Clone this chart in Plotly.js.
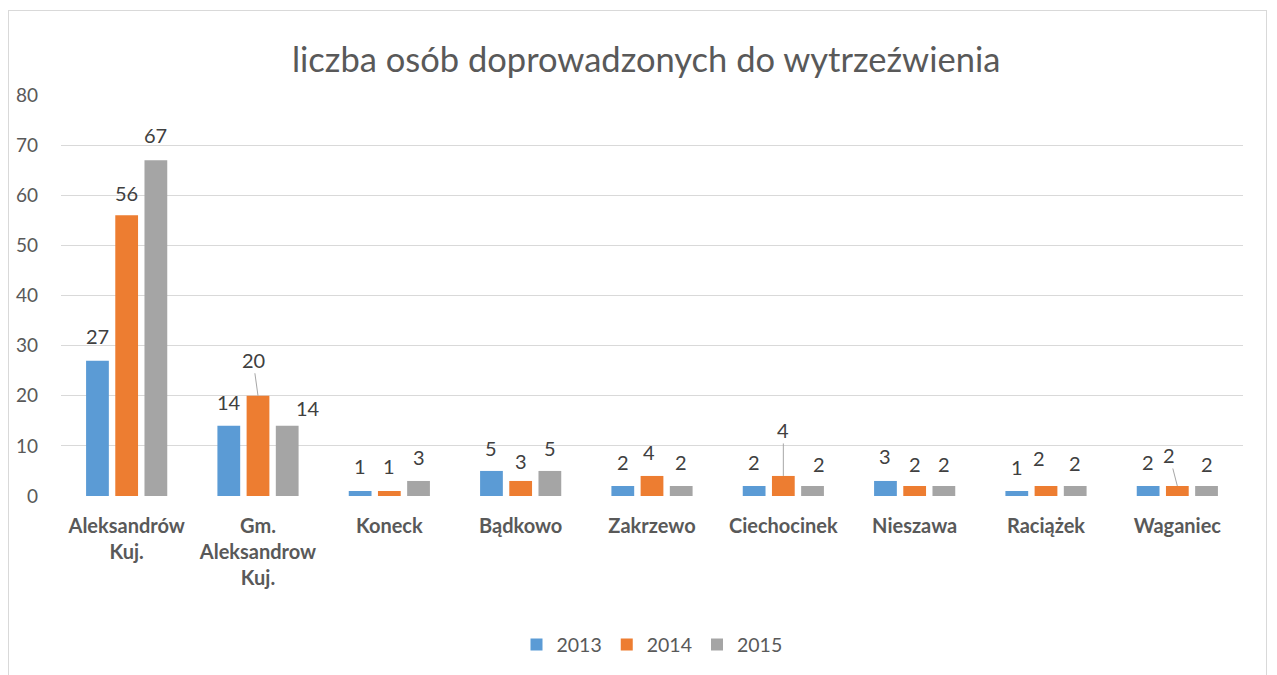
<!DOCTYPE html>
<html>
<head>
<meta charset="utf-8">
<script src="https://cdn.plot.ly/plotly-3.0.1.min.js"></script>
<style>
  html, body { margin: 0; padding: 0; background: #ffffff; }
  #frame { position: absolute; left: 8px; top: 10px; width: 1259px; height: 700px; border: 1px solid #d9d9d9; box-sizing: border-box; }
  #chart { position: absolute; left: 0; top: 0; width: 1277px; height: 675px; }
</style>
</head>
<body>
<div id="frame"></div>
<div id="chart"></div>
<script>
// ---- data ----
const categories = ['Aleksandrów Kuj.', 'Gm. Aleksandrow Kuj.', 'Koneck', 'Bądkowo', 'Zakrzewo', 'Ciechocinek', 'Nieszawa', 'Raciążek', 'Waganiec'];
const tickLabels = ['Aleksandrów<br>Kuj.', 'Gm.<br>Aleksandrow<br>Kuj.', 'Koneck', 'Bądkowo', 'Zakrzewo', 'Ciechocinek', 'Nieszawa', 'Raciążek', 'Waganiec'];
const seriesNames = ['2013', '2014', '2015'];
const v2013 = [27, 14, 1, 5, 2, 2, 3, 1, 2];
const v2014 = [56, 20, 1, 3, 4, 4, 2, 2, 2];
const v2015 = [67, 14, 3, 5, 2, 2, 2, 2, 2];

// ---- styles / label placement (pixels) ----
const colors = ['#5B9BD5', '#ED7D31', '#A5A5A5'];
const dx2013 = [0, 0, 0, 0, 0, 0, 0, 0, 0];
const dy2013 = [25, 24, 25, 23, 24, 24, 25, 24, 24];
const dx2014 = [0, -5, 0, 0, -3, 0, 0, -7, -8];
const dy2014 = [22, 36, 25, 20, 24, 46, 22, 28, 31];
const leader2014 = [false, true, false, false, false, true, false, false, true];
const dx2015 = [0, 21, 0, 0, 0, 6, 0, 0, 0];
const dy2015 = [25, 18, 24, 23, 24, 22, 22, 23, 22];

const W = 1277, H = 675;
const margin = {l: 61, r: 34, t: 95, b: 178, pad: 0};
const bargap = 0.333, bargroupgap = 0.22;
const step = (W - margin.l - margin.r) / categories.length;
const slot = step * (1 - bargap) / 3;
const slotOffsets = [-slot, 0, slot];

const values = [v2013, v2014, v2015];
const dxs = [dx2013, dx2014, dx2015];
const dys = [dy2013, dy2014, dy2015];
const leaders = [categories.map(() => false), leader2014, categories.map(() => false)];

const traces = values.map((vals, i) => ({
  type: 'bar',
  name: seriesNames[i],
  x: categories,
  y: vals,
  marker: {color: colors[i]},
  hoverinfo: 'skip'
}));

const annotations = [];
values.forEach((vals, i) => {
  vals.forEach((v, j) => {
    const a = {
      x: categories[j], y: v, xref: 'x', yref: 'y',
      text: String(v),
      font: {family: 'Lato, sans-serif', size: 20, color: '#404040'}
    };
    if (leaders[i][j]) {
      Object.assign(a, {
        showarrow: true, arrowhead: 0, arrowwidth: 1, arrowcolor: '#a6a6a6',
        standoff: 0, xshift: slotOffsets[i],
        ax: dxs[i][j], ay: -dys[i][j]
      });
    } else {
      Object.assign(a, {
        showarrow: false, xanchor: 'center', yanchor: 'middle',
        xshift: slotOffsets[i] + dxs[i][j], yshift: dys[i][j]
      });
    }
    annotations.push(a);
  });
});

const layout = {
  width: W, height: H,
  margin: margin,
  paper_bgcolor: 'rgba(0,0,0,0)',
  plot_bgcolor: '#ffffff',
  barmode: 'group',
  bargap: bargap,
  bargroupgap: bargroupgap,
  showlegend: true,
  font: {family: 'Lato, sans-serif', color: '#595959'},
  title: {
    text: 'liczba osób doprowadzonych do wytrzeźwienia',
    font: {family: 'Lato, sans-serif', size: 34.5, color: '#595959'},
    x: 0.506, xanchor: 'center', y: 0.911, yanchor: 'middle'
  },
  xaxis: {
    type: 'category',
    tickvals: categories,
    ticktext: tickLabels,
    tickfont: {family: 'Lato, sans-serif', size: 20, color: '#595959', weight: 'bold'},
    showgrid: false, zeroline: false, showline: false,
    ticks: '', ticklabelstandoff: 16
  },
  yaxis: {
    range: [0, 80], dtick: 10, tick0: 0,
    gridcolor: '#d9d9d9', gridwidth: 1,
    zeroline: false, showline: false, ticks: '',
    tickfont: {family: 'Lato, sans-serif', size: 19, color: '#595959'},
    ticklabelstandoff: 22
  },
  legend: {
    orientation: 'h', x: 0.5, xanchor: 'center', y: -0.368, yanchor: 'middle',
    font: {family: 'Lato, sans-serif', size: 19.5, color: '#595959'},
    itemclick: false, itemdoubleclick: false
  },
  annotations: annotations
};

Plotly.newPlot('chart', traces, layout, {staticPlot: true, displayModeBar: false});
</script>
</body>
</html>
